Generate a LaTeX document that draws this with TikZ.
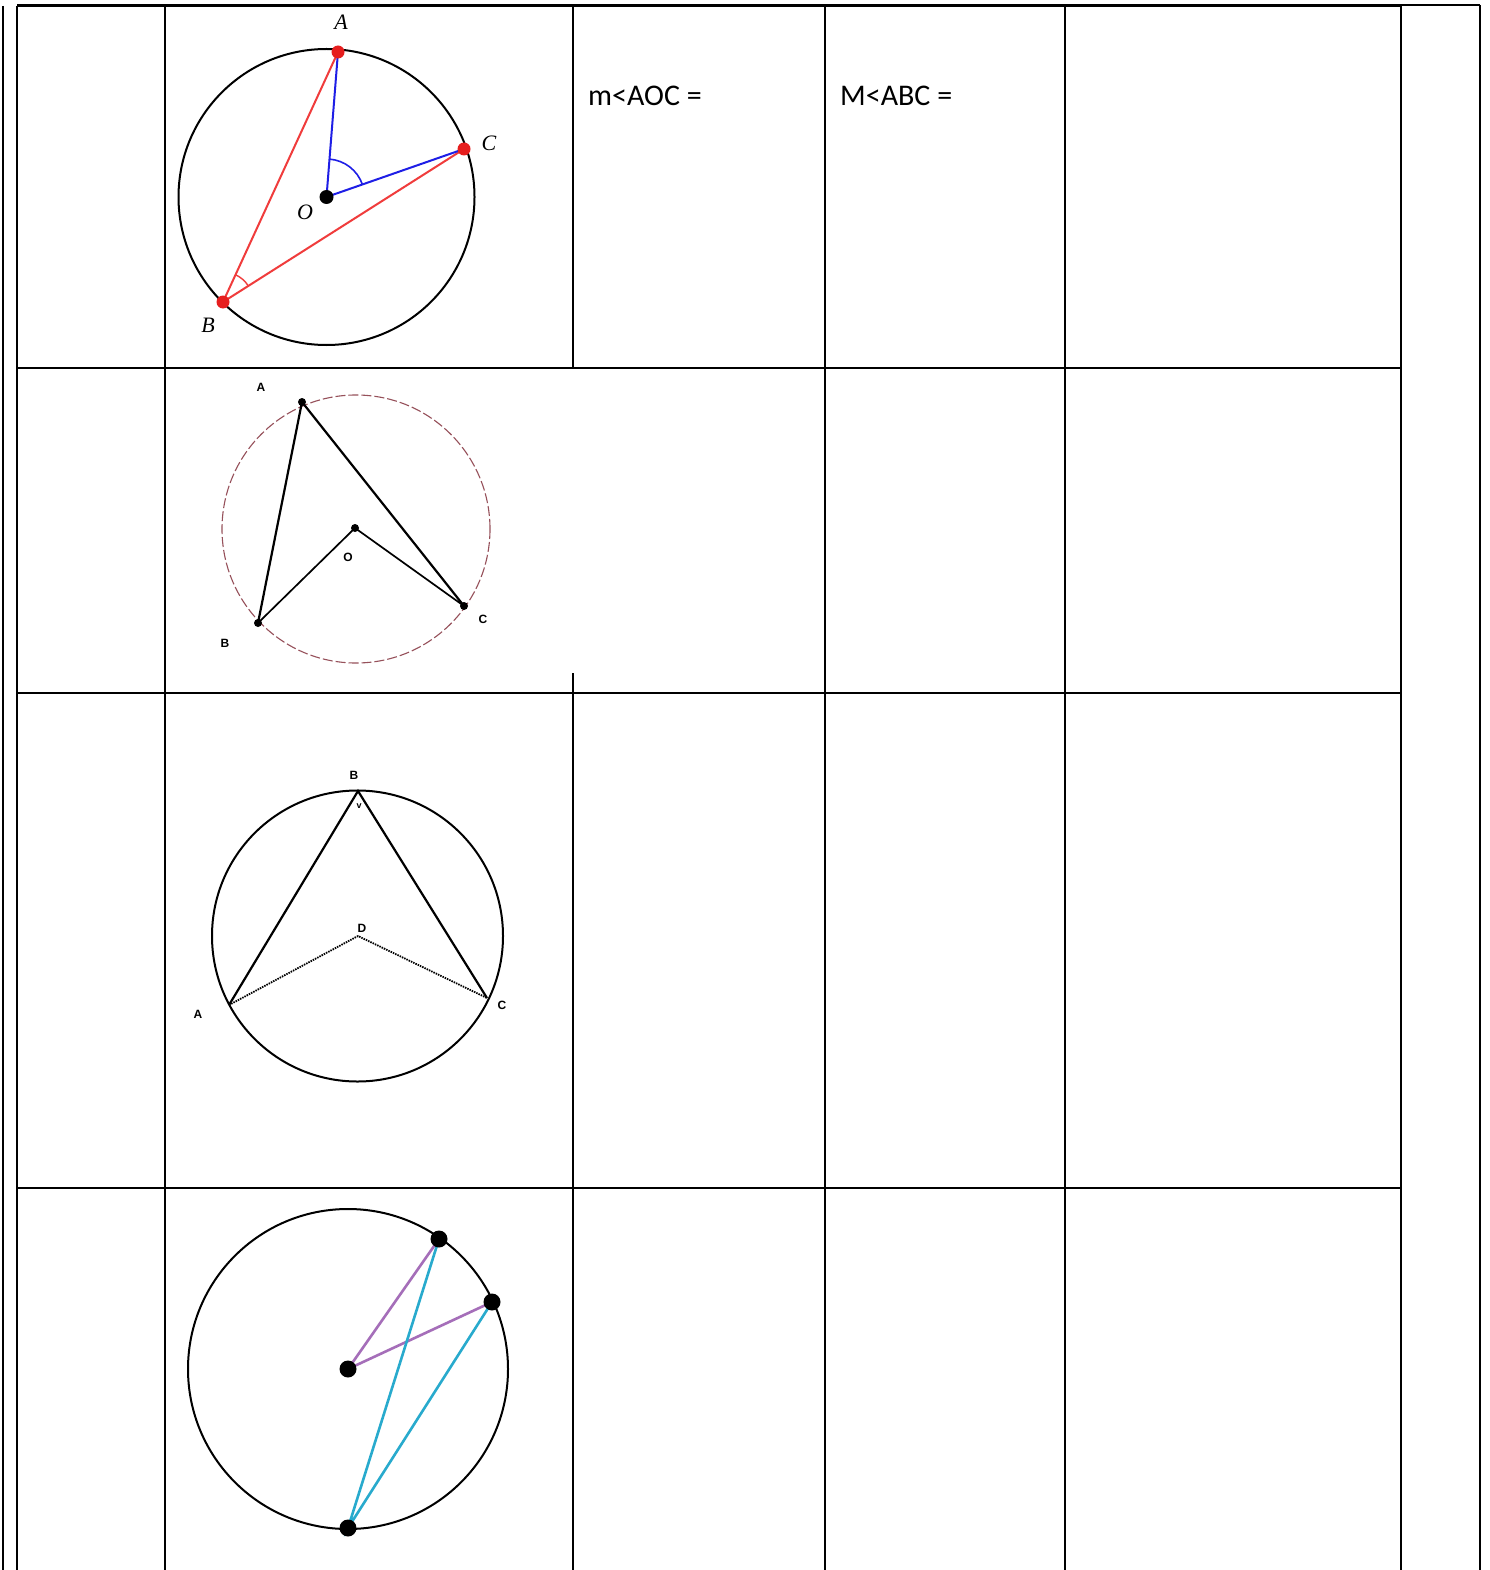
\documentclass[tikz,border=0pt]{standalone}
\usepackage{fontspec}
\setmainfont{Carlito}
\newfontfamily\serifit{Liberation Serif}
\newfontfamily\smallsans{Liberation Sans}
\usetikzlibrary{calc}
\definecolor{rdot}{RGB}{230,30,30}
\definecolor{rline}{RGB}{240,60,60}
\definecolor{bline}{RGB}{30,30,230}
\definecolor{dashc}{RGB}{150,80,90}
\definecolor{purp}{RGB}{165,110,185}
\definecolor{cyanl}{RGB}{40,170,205}
\tikzset{
  grid/.style={line width=1.7pt,black},
  celltext/.style={anchor=west,inner sep=0pt,font=\fontsize{30}{36}\selectfont},
  italab/.style={inner sep=0pt,font=\serifit\itshape\fontsize{22}{24}\selectfont},
  tinylab/.style={inner sep=0pt,font=\smallsans\bfseries\fontsize{12}{13}\selectfont},
  circ/.style={line width=2pt,black},
}
\begin{document}
\begin{tikzpicture}[x=1pt,y=-1pt]
\useasboundingbox (0,0) rectangle (1489,1570);
\fill[white] (0,0) rectangle (1489,1570);
% ---------- table ----------
\draw[line width=3pt] (17,6) -- (1401,6);
\draw[grid] (1401,5) -- (1480,5);
\draw[grid] (3,6) -- (3,1570);
\draw[grid] (17,6) -- (17,1570);
\draw[grid] (165,6) -- (165,1570);
\draw[grid] (573,6) -- (573,368);
\draw[grid] (573,673) -- (573,1570);
\draw[grid] (825,6) -- (825,1570);
\draw[grid] (1065,6) -- (1065,1570);
\draw[grid] (1401,6) -- (1401,1570);
\draw[grid] (1480,5) -- (1480,1570);
\draw[grid] (17,368) -- (1401,368);
\draw[grid] (17,693) -- (1401,693);
\draw[grid] (17,1188) -- (1401,1188);
\node[celltext] (t1) at (588,96) {m<AOC =};
\node[celltext] (t2) at (840,96) {M<ABC =};
% ---------- figure 1 ----------
\coordinate (O1) at (326.5,197);
\draw[circ] (O1) circle (148);
\coordinate (A1) at (338,52);
\coordinate (C1) at (464,149);
\coordinate (B1) at (223,302);
\draw[rline,line width=2pt] (A1) -- (B1) -- (C1);
\draw[bline,line width=2pt] (A1) -- (O1) -- (C1);
\draw[bline,line width=1.6pt] ($(O1)!38pt!(A1)$) arc[start angle=-85.5,end angle=-19.2,radius=38];
\draw[rline,line width=1.4pt] ($(B1)!30pt!(A1)$) arc[start angle=-65.3,end angle=-32.4,radius=30];
\fill[rdot] (A1) circle (6.5);
\fill[rdot] (C1) circle (6.5);
\fill[rdot] (B1) circle (6.5);
\fill[black] (O1) circle (7);
\node[italab] (lA1) at (341,22) {A};
\node[italab] (lC1) at (489,143) {C};
\node[italab] (lO1) at (305,212) {O};
\node[italab] (lB1) at (208,325) {B};
% ---------- figure 2 ----------
\coordinate (O2) at (355,528);
\draw[dashc,line width=1.1pt,dash pattern=on 10pt off 3pt] (356,529) circle (134);
\coordinate (A2) at (302,402);
\coordinate (B2) at (258,623);
\coordinate (C2) at (464,606);
\draw[line width=2.2pt] (B2) -- (A2) -- (C2);
\draw[line width=1.7pt] (B2) -- (O2) -- (C2);
\foreach \p in {A2,B2,C2,O2} \fill (\p) circle (4);
\node[tinylab] (lA2) at (261,387) {A};
\node[tinylab] (lO2) at (348,557) {O};
\node[tinylab] (lB2) at (225,643) {B};
\node[tinylab] (lC2) at (483,619) {C};
% ---------- figure 3 ----------
\coordinate (O3) at (357.5,936);
\draw[circ] (O3) circle (145.5);
\coordinate (B3) at (358,791);
\coordinate (A3) at (229,1005);
\coordinate (C3) at (487,998);
\coordinate (D3) at (358,936);
\draw[line width=2.2pt] (A3) -- (B3) -- (C3);
\draw[line width=1.8pt,dash pattern=on 1.5pt off 1pt] (A3) -- (D3) -- (C3);
\node[tinylab] (lB3) at (354,775) {B};
\node[tinylab] (lD3) at (362,928) {D};
\node[tinylab] (lA3) at (198,1014) {A};
\node[tinylab] (lC3) at (502,1005) {C};
\node[tinylab,font=\smallsans\bfseries\fontsize{9}{10}\selectfont] (lv3) at (359,806) {v};
% ---------- figure 4 ----------
\coordinate (O4) at (348,1369);
\draw[circ] (O4) circle (160);
\coordinate (P4) at (439,1239);
\coordinate (Q4) at (492,1302);
\coordinate (R4) at (348,1528);
\draw[purp,line width=2.6pt] (P4) -- (O4) -- (Q4);
\draw[cyanl,line width=2.6pt] (P4) -- (R4) -- (Q4);
\foreach \p in {O4,P4,Q4,R4} \fill (\p) circle (8.5);
\end{tikzpicture}
\end{document}
